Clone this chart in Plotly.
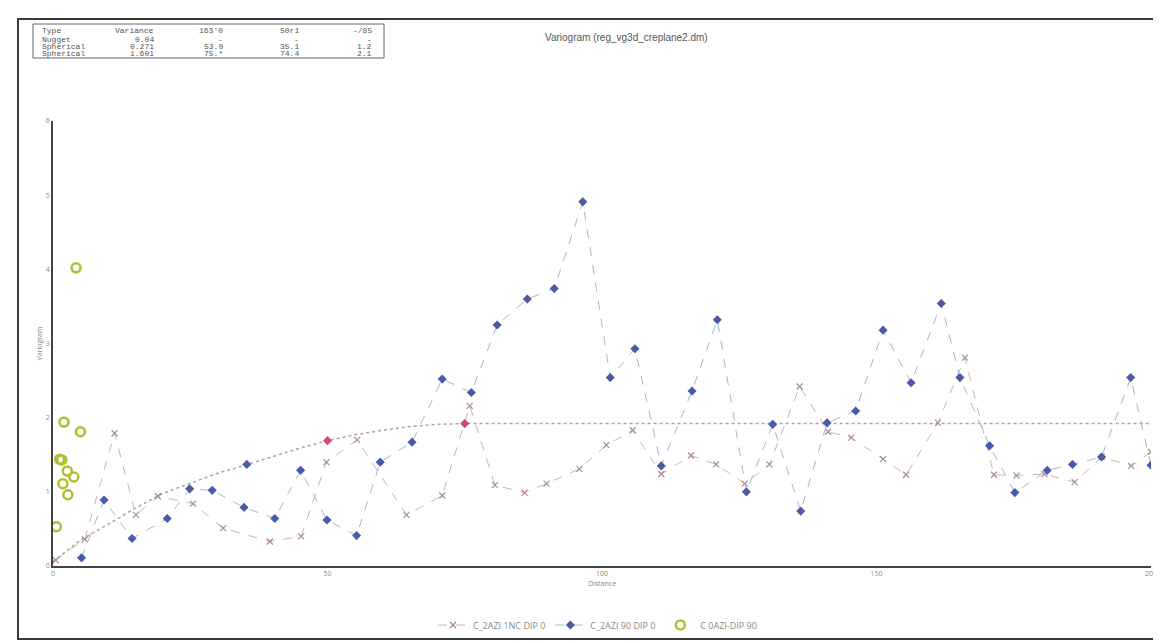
import plotly.graph_objects as go

# ---------------- data ----------------
blue_x = [5.2, 9.3, 14.4, 20.8, 24.9, 29.0, 34.8, 40.4, 45.1, 49.9, 55.3, 59.6, 65.4, 70.9, 76.2,
          80.9, 86.4, 91.3, 96.5, 101.5, 106.0, 110.8, 116.4, 121.0, 126.3, 131.1, 136.2, 141.0,
          146.2, 151.2, 156.3, 161.8, 165.2, 170.6, 175.2, 181.1, 185.7, 191.0, 196.3, 200.0]
blue_y = [0.11, 0.89, 0.37, 0.64, 1.04, 1.02, 0.79, 0.64, 1.29, 0.62, 0.41, 1.40, 1.67, 2.52, 2.34,
          3.25, 3.60, 3.74, 4.91, 2.54, 2.93, 1.35, 2.36, 3.32, 1.00, 1.91, 0.74, 1.93,
          2.09, 3.18, 2.47, 3.54, 2.54, 1.62, 0.99, 1.29, 1.37, 1.47, 2.54, 1.36]

extra_blue_x = [35.3]
extra_blue_y = [1.37]

cross_x = [0.5, 5.8, 11.2, 15.1, 19.1, 25.5, 31.0, 39.5, 45.2, 49.8, 55.4, 64.4, 70.9, 75.9,
           80.5, 85.9, 89.9, 95.9, 100.8, 105.6, 110.8, 116.2, 120.8, 126.0, 130.5, 136.0,
           141.2, 145.4, 151.2, 155.4, 161.2, 166.1, 171.4, 175.5, 180.6, 186.1, 191.0, 196.4, 200.0]
cross_y = [0.08, 0.36, 1.79, 0.69, 0.94, 0.84, 0.51, 0.33, 0.40, 1.40, 1.70, 0.69, 0.95, 2.16,
           1.09, 0.99, 1.11, 1.31, 1.63, 1.83, 1.24, 1.49, 1.37, 1.11, 1.37, 2.42,
           1.81, 1.73, 1.44, 1.23, 1.93, 2.81, 1.23, 1.22, 1.24, 1.13, 1.47, 1.35, 1.54]

green_x = [4.2, 2.0, 5.0, 1.2, 1.6, 2.6, 3.8, 1.8, 2.7, 0.6]
green_y = [4.02, 1.94, 1.81, 1.44, 1.43, 1.28, 1.20, 1.11, 0.96, 0.53]

model_x = [0, 5, 10, 15, 20, 25, 30, 35, 40, 45, 50, 55, 60, 65, 70, 75, 100, 150, 200]
model_y = [0.06, 0.35, 0.56, 0.78, 0.98, 1.12, 1.25, 1.36, 1.48, 1.59, 1.69, 1.77, 1.83,
           1.88, 1.91, 1.92, 1.92, 1.92, 1.92]

red_x = [50, 75]
red_y = [1.69, 1.92]

legend_names = ["C_2AZI 1NC DIP 0", "C_2AZI 90 DIP 0", "C 0AZI-DIP 90"]

table_header = ["Type", "Variance", "163'0", "50r1", "-/85"]
table_rows = [
    ["Nugget", "0.04", "-", "-", "-"],
    ["Spherical", "0.271", "53.0", "35.1", "1.2"],
    ["Spherical", "1.601", "75.*", "74.4", "2.1"],
]

x_ticks = [0, 50, 100, 150, 200]
y_ticks = [0, 1, 2, 3, 4, 5, 6]

# ---------------- layout helpers (pixel -> paper) ----------------
W, H = 1161, 643
L, R, T, B = 45, 1143, 113, 558
def px(x):
    return (x - L) / (R - L)
def py(y):
    return (B - y) / (B - T)

fig = go.Figure()

fig.add_trace(go.Scatter(
    x=model_x, y=model_y, mode="lines", showlegend=False,
    line=dict(color="#b09f9f", width=1.5, dash="dot"), hoverinfo="skip"))

fig.add_trace(go.Scatter(
    x=cross_x, y=cross_y, mode="lines+markers", name=legend_names[0],
    line=dict(color="#cdb0b8", width=1, dash="dash"),
    marker=dict(symbol="x-thin", size=6, line=dict(color="#a98890", width=1.2))))

fig.add_trace(go.Scatter(
    x=blue_x, y=blue_y, mode="lines+markers", name=legend_names[1],
    line=dict(color="#aab2cf", width=1, dash="dash"),
    marker=dict(symbol="diamond", size=7, color="#4a5aa6")))

fig.add_trace(go.Scatter(
    x=extra_blue_x, y=extra_blue_y, mode="markers", showlegend=False,
    marker=dict(symbol="diamond", size=7, color="#4a5aa6")))

fig.add_trace(go.Scatter(
    x=red_x, y=red_y, mode="markers", showlegend=False,
    marker=dict(symbol="diamond", size=7, color="#d04a68")))

fig.add_trace(go.Scatter(
    x=green_x, y=green_y, mode="markers", name=legend_names[2],
    marker=dict(symbol="circle-open", size=9, color="#b3bd2e",
                line=dict(color="#b3bd2e", width=2.5))))

shapes = [
    # outer frame
    dict(type="rect", xref="paper", yref="paper",
         x0=px(10), x1=px(1157), y0=py(631), y1=py(11),
         line=dict(color="#3a3a3a", width=2)),
    # table box
    dict(type="rect", xref="paper", yref="paper",
         x0=px(25), x1=px(376), y0=py(50), y1=py(16),
         line=dict(color="#666", width=1)),
]

annotations = []
col_right = [None, 148, 217, 293, 366]
row_y = [23, 31, 38.5, 46]
font_tab = dict(family="Liberation Mono", size=8, color="#555")
all_rows = [table_header] + table_rows
for r, row in enumerate(all_rows):
    for c, txt in enumerate(row):
        if c == 0:
            annotations.append(dict(x=px(32), y=py(row_y[r]), xref="paper", yref="paper",
                                    text=txt, showarrow=False, xanchor="left", yanchor="middle",
                                    font=font_tab))
        else:
            annotations.append(dict(x=px(col_right[c]), y=py(row_y[r]), xref="paper", yref="paper",
                                    text=txt, showarrow=False, xanchor="right", yanchor="middle",
                                    font=font_tab))

# title as annotation for precise placement
annotations.append(dict(x=px(618), y=py(30), xref="paper", yref="paper",
                        text="Variogram (reg_vg3d_creplane2.dm)", showarrow=False,
                        xanchor="center", yanchor="middle",
                        font=dict(family="Liberation Sans", size=10, color="#555")))

fig.update_layout(
    width=W, height=H, autosize=False,
    margin=dict(l=L, r=W - R, t=T, b=H - B),
    paper_bgcolor="white", plot_bgcolor="white",
    xaxis=dict(range=[0, 200], tickvals=x_ticks, showgrid=False, zeroline=False,
               showline=True, linecolor="#444", linewidth=1.5, ticks="",
               tickfont=dict(size=7, color="#888"),
               title=dict(text="Distance", font=dict(size=7, color="#888"), standoff=4)),
    yaxis=dict(range=[0, 6], tickvals=y_ticks, showgrid=False, zeroline=False,
               showline=True, linecolor="#444", linewidth=1.5, ticks="",
               tickfont=dict(size=7, color="#888"),
               title=dict(text="Variogram", font=dict(size=7, color="#888"), standoff=2)),
    legend=dict(orientation="h", x=px(425), y=py(617), xanchor="left", yanchor="middle",
                font=dict(size=9, color="#888"), bgcolor="rgba(0,0,0,0)",
                itemwidth=30, tracegroupgap=0),
    shapes=shapes, annotations=annotations,
)

fig.write_html("out.html")
